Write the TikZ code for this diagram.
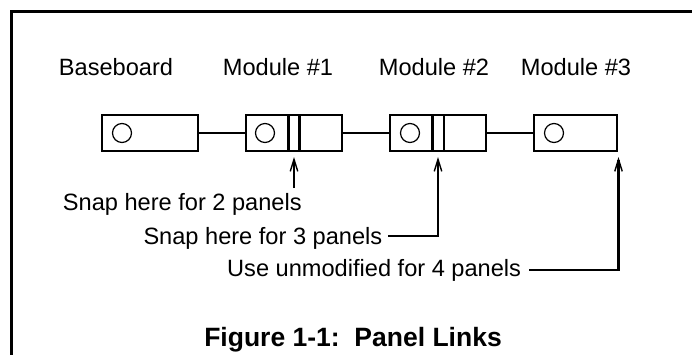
\documentclass[tikz,border=0pt]{standalone}
\usepackage{fontspec}
\setmainfont{Liberation Sans}
\usetikzlibrary{arrows.meta}
\begin{document}
\begin{tikzpicture}[x=1pt,y=-1pt,
  box/.style={draw,line width=2.3pt,inner sep=0pt,minimum height=36pt},
  hole/.style={draw,circle,line width=1.2pt,inner sep=0pt,minimum size=19pt},
  link/.style={line width=2.3pt},
  lbl/.style={inner sep=0pt,font=\fontsize{23.6}{28}\selectfont},
  arr/.style={line width=2.3pt,-{Straight Barb[length=12pt,width=7.5pt,line width=1.4pt]}},
  captext/.style={inner sep=0pt,font=\fontsize{26.5}{31}\selectfont\bfseries}]
\useasboundingbox (0,0) rectangle (692,354);
\clip (0,0) rectangle (692,354);
% frame
\draw[line width=3pt] (11,360) -- (11,11.5) -- (700,11.5);
% labels
\node[lbl,anchor=base] (lb) at (116,75.7) {Baseboard};
\node[lbl,anchor=base] (l1) at (278,75.7) {Module \#1};
\node[lbl,anchor=base] (l2) at (434,75.7) {Module \#2};
\node[lbl,anchor=base] (l3) at (576,75.7) {Module \#3};
% boxes
\node[box,minimum width=96pt] (bb) at (150,133) {};
\node[box,minimum width=96pt] (m1) at (294,133) {};
\node[box,minimum width=96pt] (m2) at (438,133) {};
\node[box,minimum width=83pt] (m3) at (575.5,133) {};
\node[hole] (h0) at (122,133) {};
\node[hole] (h1) at (265,133) {};
\node[hole] (h2) at (410,133) {};
\node[hole] (h3) at (554,133) {};
\draw[link] (288.5,115) -- (288.5,151) (299.5,115) -- (299.5,151);
\draw[link] (432.5,115) -- (432.5,151) (444,115) -- (444,151);
\draw[link] (bb.east) -- (m1.west);
\draw[link] (m1.east) -- (m2.west);
\draw[link] (m2.east) -- (m3.west);
% annotations
\node[lbl,anchor=base west] (s2) at (62.7,210) {Snap here for 2 panels};
\node[lbl,anchor=base west] (s3) at (143.3,244) {Snap here for 3 panels};
\node[lbl,anchor=base west] (s4) at (227,276.7) {Use unmodified for 4 panels};
\coordinate (t1) at (294,157);
\coordinate (t2) at (438,157);
\coordinate (t3) at (618.5,157);
\coordinate (b1) at (294,188);
\coordinate (e3) at (388,236);
\coordinate (e4) at (529,270);
\draw[arr] (b1) -- (t1);
\draw[arr] (e3) -| (t2);
\draw[arr] (e4) -| (t3);
% caption
\node[captext,anchor=base] (cp) at (353,346.7) {Figure 1-1:\ \ Panel Links};
\end{tikzpicture}
\end{document}
